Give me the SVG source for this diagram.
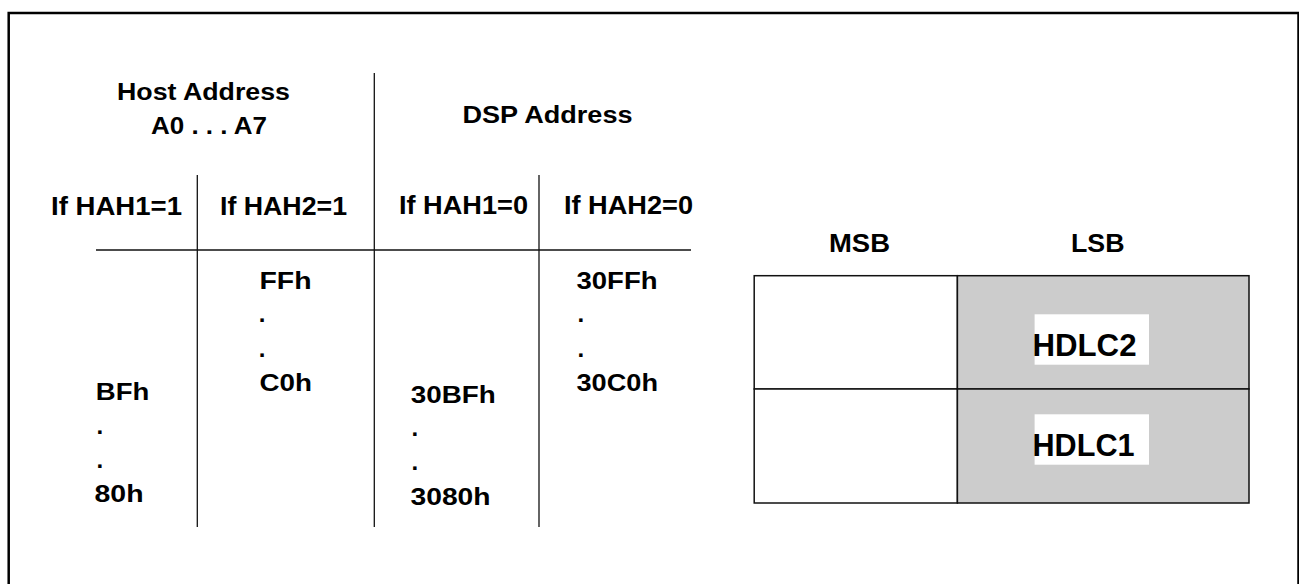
<svg xmlns="http://www.w3.org/2000/svg" width="1299" height="584" viewBox="0 0 1299 584">
<style>
  text { font-family: "Liberation Sans", Arial, Helvetica, sans-serif; font-weight: bold; fill: #000; }
  .hdr { font-size: 23px; }
  .col { font-size: 25px; }
  .val { font-size: 24px; }
  .bit { font-size: 26px; }
  .reg { font-size: 31px; }
  .ln { stroke: #111; stroke-width: 1.3; fill: none; }
  .cell { stroke: #111; stroke-width: 1.5; }
</style>
<rect x="0" y="0" width="1299" height="584" fill="#fff"/>
<rect id="frame" x="8.7" y="13" width="1289.8" height="620" fill="none" stroke="#000" stroke-width="2.5"/>

<g id="connectors">
  <line class="ln" x1="374.3" y1="73" x2="374.3" y2="527"/>
  <line class="ln" x1="197.3" y1="175" x2="197.3" y2="527"/>
  <line class="ln" x1="539" y1="175" x2="539" y2="527"/>
  <line class="ln" x1="96" y1="250" x2="691" y2="250"/>
</g>

<g id="host-header">
  <text class="hdr" x="117" y="100" textLength="173" lengthAdjust="spacingAndGlyphs">Host Address</text>
  <text class="hdr" x="151" y="134" textLength="116" lengthAdjust="spacingAndGlyphs">A0 . . . A7</text>
</g>
<g id="dsp-header">
  <text class="hdr" x="462.5" y="123.3" textLength="170" lengthAdjust="spacingAndGlyphs">DSP Address</text>
</g>

<g id="col-hah1-1">
  <text class="col" x="51" y="215" textLength="131" lengthAdjust="spacingAndGlyphs">If HAH1=1</text>
  <text class="val" x="95.8" y="400" textLength="53.5" lengthAdjust="spacingAndGlyphs">BFh</text>
  <text class="val" x="96.4" y="433.7">.</text>
  <text class="val" x="96.4" y="468.4">.</text>
  <text class="val" x="94.5" y="501.7" textLength="49" lengthAdjust="spacingAndGlyphs">80h</text>
</g>
<g id="col-hah2-1">
  <text class="col" x="220" y="215" textLength="127" lengthAdjust="spacingAndGlyphs">If HAH2=1</text>
  <text class="val" x="259.5" y="289" textLength="52" lengthAdjust="spacingAndGlyphs">FFh</text>
  <text class="val" x="258.7" y="322.4">.</text>
  <text class="val" x="258.7" y="356.7">.</text>
  <text class="val" x="259.5" y="390.7" textLength="52.5" lengthAdjust="spacingAndGlyphs">C0h</text>
</g>
<g id="col-hah1-0">
  <text class="col" x="399" y="214" textLength="129" lengthAdjust="spacingAndGlyphs">If HAH1=0</text>
  <text class="val" x="410.8" y="403.3" textLength="85" lengthAdjust="spacingAndGlyphs">30BFh</text>
  <text class="val" x="411.4" y="435.7">.</text>
  <text class="val" x="411.4" y="469.7">.</text>
  <text class="val" x="410.5" y="505" textLength="80" lengthAdjust="spacingAndGlyphs">3080h</text>
</g>
<g id="col-hah2-0">
  <text class="col" x="564" y="214" textLength="129" lengthAdjust="spacingAndGlyphs">If HAH2=0</text>
  <text class="val" x="576.5" y="289.3" textLength="81" lengthAdjust="spacingAndGlyphs">30FFh</text>
  <text class="val" x="577.4" y="322.4">.</text>
  <text class="val" x="577.4" y="356.7">.</text>
  <text class="val" x="576.5" y="390.7" textLength="81.5" lengthAdjust="spacingAndGlyphs">30C0h</text>
</g>

<g id="register">
  <text class="bit" x="829" y="251.7" textLength="61" lengthAdjust="spacingAndGlyphs">MSB</text>
  <text class="bit" x="1071" y="251.7" textLength="53.5" lengthAdjust="spacingAndGlyphs">LSB</text>
  <rect class="cell" x="754.2" y="275.7" width="203.2" height="113.3" fill="#fff"/>
  <rect class="cell" x="754.2" y="389" width="203.2" height="114" fill="#fff"/>
  <rect class="cell" x="957.4" y="275.7" width="291.6" height="113.3" fill="#cccccc"/>
  <rect class="cell" x="957.4" y="389" width="291.6" height="114" fill="#cccccc"/>
</g>
<g id="hdlc2">
  <rect x="1034.6" y="314.3" width="114.4" height="50.4" fill="#fff"/>
  <text class="reg" x="1032.5" y="355.7" textLength="104" lengthAdjust="spacingAndGlyphs">HDLC2</text>
</g>
<g id="hdlc1">
  <rect x="1034.6" y="414.3" width="114.4" height="50.4" fill="#fff"/>
  <text class="reg" x="1032.5" y="455.7" textLength="102" lengthAdjust="spacingAndGlyphs">HDLC1</text>
</g>
</svg>
